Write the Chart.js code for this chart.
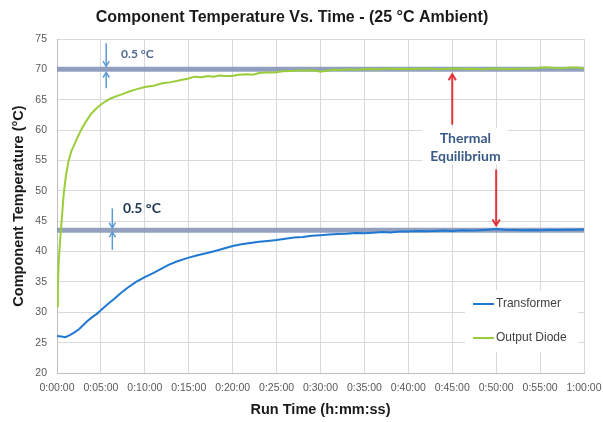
<!DOCTYPE html>
<html>
<head>
<meta charset="UTF-8">
<title>Component Temperature Vs. Time</title>
<script src="https://cdn.jsdelivr.net/npm/chart.js@4.4.0/dist/chart.umd.min.js"></script>
<style>
  body { margin: 0; background: #fff; }
  canvas { display: block; }
</style>
</head>
<body>
<canvas id="myChart" width="603" height="422"></canvas>
<script>
// run time in minutes, temperatures in °C
var transformerTime = [0, 0.5, 0.95, 1.4, 1.9, 2.5, 3, 3.5, 4, 4.5, 4.9, 5.5, 6, 6.5, 7.2, 8, 9, 10, 11, 11.8,
  12.7, 13.7, 15, 16, 17.1, 18, 19, 20, 21, 22, 23, 24, 25, 26, 27, 28, 29, 30, 31, 32,
  33, 34, 35, 36, 37, 38, 39, 40, 41, 42, 43, 44, 45, 46, 47, 48, 49, 50, 51, 52,
  53, 54, 55, 56, 57, 58, 59, 60];
var transformerTemp = [26.1, 26.0, 25.9, 26.2, 26.6, 27.2, 27.9, 28.6, 29.2, 29.7, 30.2, 31.0, 31.6, 32.2, 33.1, 34.0, 35.0, 35.8, 36.5, 37.1,
  37.8, 38.4, 39.0, 39.4, 39.75, 40.1, 40.5, 40.9, 41.2, 41.4, 41.6, 41.75, 41.9, 42.1, 42.3, 42.4, 42.6, 42.7, 42.8, 42.9,
  42.95, 43.05, 43.0, 43.1, 43.2, 43.15, 43.3, 43.3, 43.4, 43.35, 43.4, 43.45, 43.4, 43.5, 43.45, 43.5, 43.6, 43.7, 43.6, 43.55,
  43.5, 43.55, 43.5, 43.6, 43.55, 43.6, 43.6, 43.65];

var diodeTime = [0, 0.1, 0.2, 0.35, 0.5, 0.75, 1, 1.3, 1.6, 2, 2.4, 2.85, 3.3, 3.8, 4.3, 4.9, 5.5, 6.1, 6.8, 7.6,
  8.3, 9, 10, 11, 12, 13, 14, 15, 15.6, 16.5, 17.2, 17.8, 18.5, 19.2, 19.9, 20.7, 21.6, 22.3, 23, 23.9,
  24.8, 25.7, 26.6, 27.5, 28.4, 29.2, 30, 30.8, 31.5, 32.3, 33.2, 34, 34.9, 35.8, 36.7, 37.6, 38.5, 39.5, 40.5, 41.5,
  42.5, 43.5, 44.5, 45.5, 46.5, 47.5, 48.5, 49.5, 50.5, 51.5, 52.5, 53.5, 54.5, 55.5, 56.5, 57.5, 58.5, 59.3, 60];
var diodeTemp = [31.0, 34.5, 38.4, 41.8, 44.5, 49.3, 52.3, 54.8, 56.4, 57.7, 59.0, 60.3, 61.4, 62.5, 63.3, 64.1, 64.7, 65.2, 65.6, 66.0,
  66.4, 66.7, 67.1, 67.3, 67.7, 67.9, 68.2, 68.5, 68.8, 68.7, 68.9, 68.8, 69.0, 68.9, 68.9, 69.1, 69.2, 69.1, 69.4, 69.5,
  69.5, 69.7, 69.75, 69.8, 69.8, 69.85, 69.6, 69.8, 69.95, 69.9, 70.0, 69.95, 70.0, 70.05, 70.0, 70.15, 70.05, 70.1, 70.05, 70.15,
  70.1, 70.0, 70.1, 70.15, 70.05, 70.1, 70.0, 70.15, 70.1, 70.05, 70.1, 70.15, 70.2, 70.35, 70.25, 70.2, 70.3, 70.3, 70.15];

var seriesNames = ['Transformer', 'Output Diode'];
var xTickLabels = ['0:00:00', '0:05:00', '0:10:00', '0:15:00', '0:20:00', '0:25:00', '0:30:00',
  '0:35:00', '0:40:00', '0:45:00', '0:50:00', '0:55:00', '1:00:00'];
var bandLevels = [70, 43.5];

// annotation placement in data units (minutes, °C)
var bandArrows = [
  { t: 5.6, from: 74.3, to: 70.5 }, { t: 5.6, from: 66.9, to: 69.5 },
  { t: 6.3, from: 47.1, to: 43.9 }, { t: 6.3, from: 40.3, to: 43.2 }
];
var bandNotes = [
  { t: 7.3, v: 72.5, text: '0.5 °C', size: 12, color: '#4f6a8f' },
  { t: 7.5, v: 47.15, text: '0.5 °C', size: 14, color: '#1f3554' }
];
var eqArrows = [{ t: 45, from: 60.9, to: 69.2 }, { t: 50, from: 53.5, to: 44.3 }];
var eqNote = { t: 46.5, lines: ['Thermal', 'Equilibrium'], vals: [58.6, 55.7], box: [41.6, 51.3, 60.4, 54.3] };

function pairs(xs, ys) {
  return xs.map(function (x, i) { return { x: x, y: ys[i] }; });
}

function arrow(ctx, x1, y1, x2, y2, head) {
  ctx.beginPath(); ctx.moveTo(x1, y1); ctx.lineTo(x2, y2); ctx.stroke();
  var a = Math.atan2(y2 - y1, x2 - x1);
  ctx.beginPath();
  ctx.moveTo(x2 - head * Math.cos(a - 0.55), y2 - head * Math.sin(a - 0.55));
  ctx.lineTo(x2, y2);
  ctx.lineTo(x2 - head * Math.cos(a + 0.55), y2 - head * Math.sin(a + 0.55));
  ctx.stroke();
}

var notesPlugin = {
  id: 'notes',
  afterDatasetsDraw: function (chart) {
    var ctx = chart.ctx, xs = chart.scales.x, ys = chart.scales.y, area = chart.chartArea;
    ctx.save();
    // small 0.5 °C arrows
    ctx.strokeStyle = '#5b9bd5';
    ctx.lineWidth = 1.5;
    bandArrows.forEach(function (a) {
      var x = xs.getPixelForValue(a.t);
      arrow(ctx, x, ys.getPixelForValue(a.from), x, ys.getPixelForValue(a.to), 6);
    });
    ctx.textAlign = 'left';
    ctx.textBaseline = 'middle';
    bandNotes.forEach(function (n) {
      ctx.font = 'bold ' + n.size + 'px Lato, "Open Sans", sans-serif';
      ctx.fillStyle = n.color;
      ctx.fillText(n.text, xs.getPixelForValue(n.t), ys.getPixelForValue(n.v));
    });
    // thermal equilibrium note
    var b = eqNote.box;
    ctx.fillStyle = '#fff';
    ctx.fillRect(xs.getPixelForValue(b[0]), ys.getPixelForValue(b[2]),
      xs.getPixelForValue(b[1]) - xs.getPixelForValue(b[0]), ys.getPixelForValue(b[3]) - ys.getPixelForValue(b[2]));
    ctx.font = 'bold 14px Lato, "Open Sans", sans-serif';
    ctx.fillStyle = '#3b5b87';
    ctx.textAlign = 'center';
    eqNote.lines.forEach(function (s, i) {
      ctx.fillText(s, xs.getPixelForValue(eqNote.t), ys.getPixelForValue(eqNote.vals[i]));
    });
    ctx.strokeStyle = '#e0353b';
    ctx.lineWidth = 2;
    eqArrows.forEach(function (a) {
      var x = xs.getPixelForValue(a.t);
      arrow(ctx, x, ys.getPixelForValue(a.from), x, ys.getPixelForValue(a.to), 7);
    });
    // legend box inside the plot
    var lx = area.right - 119, ly = area.bottom - 83;
    ctx.fillStyle = '#fff';
    ctx.fillRect(lx, ly, 113, 62);
    ctx.font = '12px "Liberation Sans", Arial, sans-serif';
    ctx.textAlign = 'left';
    ctx.textBaseline = 'middle';
    [0, 1].forEach(function (i) {
      var ds = chart.data.datasets[i];
      var y = ly + 14 + i * 34;
      ctx.strokeStyle = ds.borderColor;
      ctx.lineWidth = 2;
      ctx.beginPath(); ctx.moveTo(lx + 8, y); ctx.lineTo(lx + 29, y); ctx.stroke();
      ctx.fillStyle = '#404040';
      ctx.fillText(ds.label, lx + 31, y);
    });
    ctx.restore();
  }
};

var tickFont = { family: '"Liberation Sans", Arial, sans-serif', size: 10.5 };
var titleFont = { family: '"Liberation Sans", Arial, sans-serif', size: 14.5, weight: 'bold' };

var ctx = document.getElementById('myChart').getContext('2d');
var chart = new Chart(ctx, {
  type: 'line',
  data: {
    datasets: [
      {
        label: seriesNames[0],
        data: pairs(transformerTime, transformerTemp),
        borderColor: '#1f78d1',
        borderWidth: 2,
        pointRadius: 0,
        tension: 0,
        order: 1
      },
      {
        label: seriesNames[1],
        data: pairs(diodeTime, diodeTemp),
        borderColor: '#9acd3a',
        borderWidth: 2,
        pointRadius: 0,
        tension: 0,
        order: 2
      },
      {
        label: 'band',
        data: [{ x: 0, y: bandLevels[0] }, { x: 60, y: bandLevels[0] }],
        borderColor: 'rgba(128,143,180,0.85)',
        borderWidth: 5,
        pointRadius: 0,
        order: 3
      },
      {
        label: 'band',
        data: [{ x: 0, y: bandLevels[1] }, { x: 60, y: bandLevels[1] }],
        borderColor: 'rgba(128,143,180,0.85)',
        borderWidth: 5,
        pointRadius: 0,
        order: 3
      }
    ]
  },
  options: {
    responsive: false,
    animation: false,
    devicePixelRatio: 1,
    layout: { padding: { left: 0, right: 19, top: 0, bottom: 0 } },
    plugins: {
      legend: { display: false },
      tooltip: { enabled: false },
      title: {
        display: true,
        text: 'Component Temperature Vs. Time - (25 °C Ambient)',
        color: '#1a1a1a',
        font: { family: '"Liberation Sans", Arial, sans-serif', size: 16, weight: 'bold' },
        padding: { top: 8, bottom: 11.8 }
      }
    },
    scales: {
      x: {
        type: 'linear',
        min: 0,
        max: 60,
        afterFit: function (s) { s.height = 49; s.paddingRight = 0; s.paddingLeft = 0; },
        afterBuildTicks: function (s) {
          s.ticks = xTickLabels.map(function (l, i) { return { value: i * 5 }; });
        },
        ticks: {
          autoSkip: false,
          maxRotation: 0,
          padding: 9,
          color: '#595959',
          font: tickFont,
          callback: function (v, i) { return xTickLabels[i]; }
        },
        grid: { color: '#d9d9d9', drawTicks: false },
        border: { color: '#bfbfbf' },
        title: {
          display: true,
          text: 'Run Time (h:mm:ss)',
          color: '#1a1a1a',
          font: titleFont,
          padding: { top: 0, bottom: 3.6 }
        }
      },
      y: {
        min: 20,
        max: 75,
        afterFit: function (s) { s.width = 57; },
        ticks: { stepSize: 5, padding: 10, color: '#595959', font: tickFont },
        grid: { color: '#d9d9d9', drawTicks: false },
        border: { color: '#bfbfbf' },
        title: {
          display: true,
          text: 'Component Temperature (°C)',
          color: '#1a1a1a',
          font: titleFont,
          padding: { top: 10, bottom: 0 }
        }
      }
    }
  },
  plugins: [notesPlugin]
});
</script>
</body>
</html>
